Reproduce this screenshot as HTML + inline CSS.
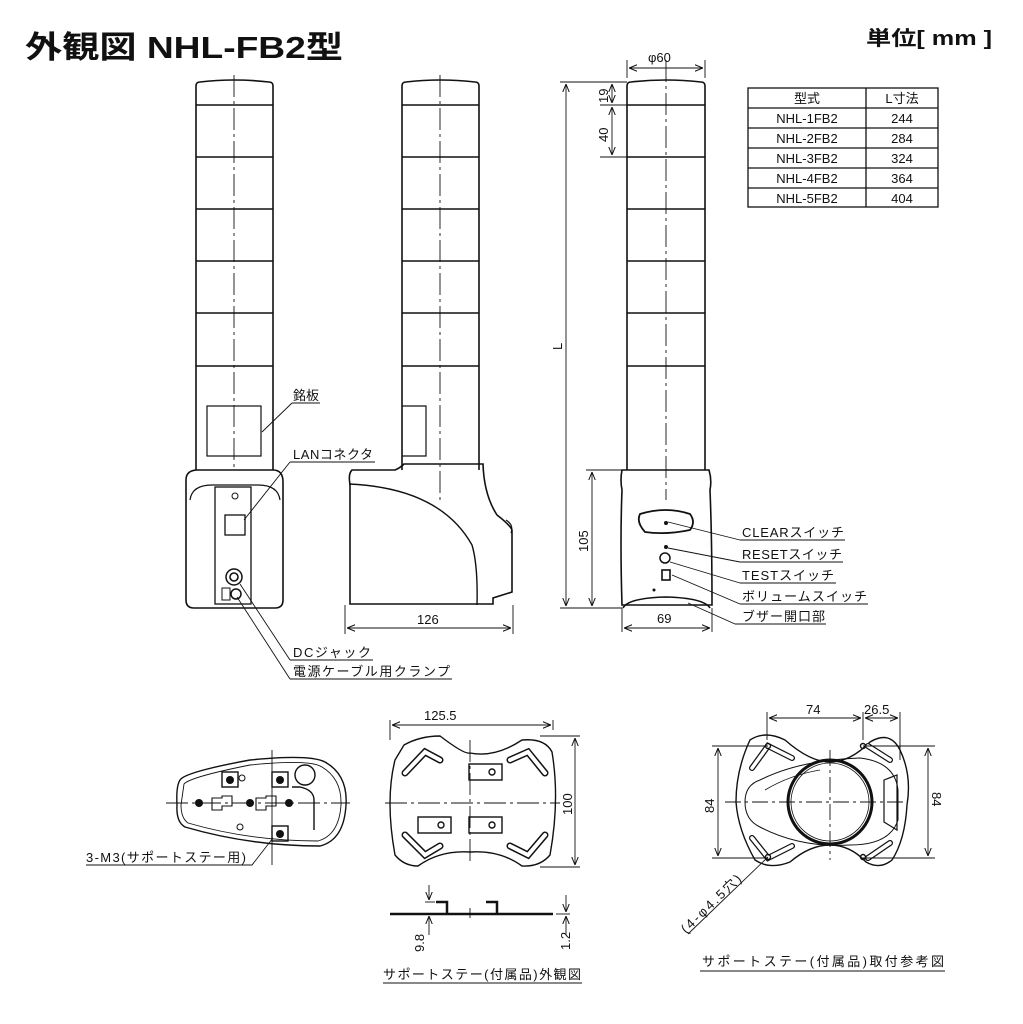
<!DOCTYPE html>
<html><head><meta charset="utf-8"><style>
html,body{margin:0;padding:0;background:#fff}
svg{display:block}
text{font-family:"Liberation Sans","Noto Sans CJK JP",sans-serif;fill:#111}
.t{font-size:13px}
</style></head><body>
<svg width="1023" height="1024" viewBox="0 0 1023 1024" xmlns="http://www.w3.org/2000/svg">
<defs>
<marker id="a" viewBox="0 0 10 10" refX="10" refY="5" markerWidth="9" markerHeight="9" orient="auto-start-reverse"><path d="M0,1 L10,5 L0,9" fill="none" stroke="#111" stroke-width="1.2"/></marker>
</defs>
<text x="25" y="58" font-size="31" font-weight="bold" textLength="318" lengthAdjust="spacingAndGlyphs">外観図 NHL-FB2型</text>
<text x="866" y="45" font-size="20" font-weight="bold" textLength="126" lengthAdjust="spacingAndGlyphs">単位[ mm ]</text>

<g fill="none" stroke="#111" stroke-width="1.6">
<path d="M196,470 V86 Q196,82 200,82 Q234,78 269,82 Q273,82 273,86 V470"/>
<path d="M196,105H273M196,157H273M196,209H273M196,261H273M196,313H273M196,366H273"/>
<rect x="207" y="406" width="54" height="50" stroke-width="1.2"/>
<path d="M186,480 Q186,470 198,470 H273 Q283,470 283,482 V600 Q283,608 275,608 H194 Q186,608 186,600 Z"/>
<path d="M190,500 Q192,485 212,485 H258 Q278,485 280,500" stroke-width="1.2"/>
<rect x="215" y="487" width="36" height="117" stroke-width="1.3"/>
<rect x="225" y="515" width="20" height="20" stroke-width="1.3"/>
<circle cx="234" cy="577" r="8" stroke-width="1.5"/><circle cx="234" cy="577" r="4"/>
<circle cx="236" cy="594" r="5" stroke-width="1.5"/>
<rect x="222" y="588" width="8" height="12" stroke-width="1"/>
<circle cx="235" cy="496" r="3" stroke-width="1"/>
<path d="M402,470 V86 Q402,82 406,82 Q440,78 475,82 Q479,82 479,86 V470"/>
<path d="M402,105H479M402,157H479M402,209H479M402,261H479M402,313H479M402,366H479"/>
<path d="M402,406 H426 V456 H402" stroke-width="1.2"/>
<path d="M352,470 H395 Q400,468 404,464 H483 Q484,495 497,515 Q510,525 512,530 V592 L493,598 V604 H350 V484 Q348,474 352,470 Z"/>
<path d="M349,484 Q440,488 472,545 Q478,565 477,605" stroke-width="1.4"/>
<path d="M506,520 Q514,525 511,533" stroke-width="1.2"/>
<path d="M627,470 V86 Q627,82 631,82 Q666,78 701,82 Q705,82 705,86 V470"/>
<path d="M627,105H705M627,157H705M627,209H705M627,261H705M627,313H705M627,366H705"/>
<path d="M622,470 H709 Q712,480 710,490 Q712,540 712,605 H622 Q620,540 622,490 Q620,480 622,470 Z"/>
<path d="M640,514 Q666,506 690,514 Q696,522 690,530 Q666,535 645,532 Q636,522 640,514 Z" stroke-width="1.8"/>
<circle cx="665" cy="558" r="5" stroke-width="1.5"/>
<rect x="662" y="570" width="8" height="10" stroke-width="1.6"/>
<path d="M623,608 Q628,598 666,597 Q704,598 710,608" stroke-width="1.6"/>
</g>
<g fill="#111"><circle cx="666" cy="523" r="2"/><circle cx="666" cy="547" r="2"/><circle cx="654" cy="590" r="1.5"/></g>

<g stroke="#111" stroke-width="0.9" stroke-dasharray="22,4,3,4" fill="none">
<path d="M234,75V470M440,75V500M666,60V500"/>
</g>

<g stroke="#111" stroke-width="0.9" fill="none">
<path d="M627,78V60M705,78V60"/><path d="M629,68H703" marker-start="url(#a)" marker-end="url(#a)"/>
<path d="M560,82H627M600,105H627M600,157H627M560,608H622M586,470H622"/>
<path d="M566,84V606" marker-start="url(#a)" marker-end="url(#a)"/>
<path d="M612,84V103" marker-start="url(#a)" marker-end="url(#a)"/>
<path d="M612,107V155" marker-start="url(#a)" marker-end="url(#a)"/>
<path d="M592,472V606" marker-start="url(#a)" marker-end="url(#a)"/>
<path d="M622,608V632M712,608V632"/><path d="M624,628H710" marker-start="url(#a)" marker-end="url(#a)"/>
<path d="M345,605V634M513,605V634"/><path d="M347,628H511" marker-start="url(#a)" marker-end="url(#a)"/>
</g>
<text x="648" y="62" class="t">φ60</text>
<text x="0" y="0" class="t" transform="translate(608,103) rotate(-90)">19</text>
<text x="0" y="0" class="t" transform="translate(608,142) rotate(-90)">40</text>
<text x="0" y="0" class="t" transform="translate(562,350) rotate(-90)">L</text>
<text x="0" y="0" class="t" transform="translate(588,552) rotate(-90)">105</text>
<text x="657" y="623" class="t">69</text>
<text x="417" y="624" class="t">126</text>

<g fill="none" stroke="#111" stroke-width="1.3">
<rect x="748" y="88" width="190" height="119"/>
<path d="M748,108H938M748,128H938M748,148H938M748,168H938M748,188H938M866,88V207"/>
</g>
<g text-anchor="middle">
<text x="807" y="103" class="t">型式</text><text x="902" y="103" class="t">L寸法</text>
<text x="807" y="123" class="t">NHL-1FB2</text><text x="902" y="123" class="t">244</text>
<text x="807" y="143" class="t">NHL-2FB2</text><text x="902" y="143" class="t">284</text>
<text x="807" y="163" class="t">NHL-3FB2</text><text x="902" y="163" class="t">324</text>
<text x="807" y="183" class="t">NHL-4FB2</text><text x="902" y="183" class="t">364</text>
<text x="807" y="203" class="t">NHL-5FB2</text><text x="902" y="203" class="t">404</text>
</g>

<g stroke="#111" stroke-width="0.9" fill="none">
<path d="M292,403H320M292,403L262,432"/>
<path d="M290,462H375M290,462L244,520"/>
<path d="M290,660H373M290,660L240,584"/>
<path d="M290,679H452M290,679L237,597"/>
<path d="M740,540H845M740,540L668,522"/>
<path d="M740,562H843M740,562L668,548"/>
<path d="M740,583H836M740,583L670,562"/>
<path d="M740,604H868M740,604L672,575"/>
<path d="M735,624H826M735,624L688,603"/>
</g>
<text x="293" y="400" class="t">銘板</text>
<text x="293" y="459" class="t" textLength="80">LANコネクタ</text>
<text x="293" y="657" class="t" textLength="78">DCジャック</text>
<text x="293" y="676" class="t" textLength="157">電源ケーブル用クランプ</text>
<text x="742" y="537" class="t" textLength="102">CLEARスイッチ</text>
<text x="742" y="559" class="t" textLength="100">RESETスイッチ</text>
<text x="742" y="580" class="t" textLength="92">TESTスイッチ</text>
<text x="742" y="601" class="t" textLength="125">ボリュームスイッチ</text>
<text x="742" y="621" class="t" textLength="83">ブザー開口部</text>

<g fill="none" stroke="#111" stroke-width="1.4">
<path d="M180,780 Q185,772 250,760 Q310,754 325,762 Q348,775 346,805 Q344,840 320,846 Q250,846 185,827 Q176,822 177,805 Q176,786 180,780 Z"/>
<path d="M184,784 Q190,777 250,765 Q310,759 322,767 Q342,779 341,805 Q339,835 318,841 Q250,841 188,823 Q181,818 181,805 Z" stroke-width="0.9"/>
<rect x="222" y="772" width="16" height="15"/><rect x="272" y="772" width="16" height="15"/><rect x="272" y="826" width="16" height="15"/>
<circle cx="305" cy="775" r="10"/><path d="M292,787 L300,787 Q314,790 314,800 V830"/>
<path d="M212,798H222V796H232V806H222V810H212Z" stroke-width="1.1"/>
<path d="M256,798H266V796H276V806H266V810H256Z" stroke-width="1.1"/>
<circle cx="242" cy="778" r="3" stroke-width="1"/><circle cx="240" cy="827" r="3" stroke-width="1"/>
</g>
<g fill="#111"><circle cx="230" cy="780" r="4"/><circle cx="280" cy="780" r="4"/><circle cx="280" cy="834" r="4"/><circle cx="199" cy="803" r="4"/><circle cx="250" cy="803" r="4"/><circle cx="289" cy="803" r="4"/></g>
<g stroke="#111" stroke-width="0.9" fill="none"><path d="M166,803H350" stroke-dasharray="22,4,3,4"/><path d="M272,750V865"/>
<path d="M86,865H252L273,838"/></g>
<text x="86" y="862" class="t" textLength="160">3-M3(サポートステー用)</text>

<g fill="none" stroke="#111" stroke-width="1.4">
<path d="M404,745 Q420,736 440,736 Q465,755 470,753 Q495,758 522,740 Q545,738 552,752 Q560,800 550,855 Q540,867 522,866 Q500,850 470,852 Q440,850 418,866 Q404,866 395,855 Q385,800 395,760 Z"/>
<path d="M405,773 L425,752 L440,760 M510,760 L528,752 L545,773 M405,835 L425,855 L440,846 M510,846 L528,855 L545,835" stroke-width="7" stroke-linecap="round"/>
<path d="M405,773 L425,752 L440,760 M510,760 L528,752 L545,773 M405,835 L425,855 L440,846 M510,846 L528,855 L545,835" stroke="#fff" stroke-width="4" stroke-linecap="round"/>
<rect x="469" y="764" width="33" height="16"/><rect x="418" y="817" width="33" height="16"/><rect x="469" y="817" width="33" height="16"/>
<circle cx="492" cy="772" r="3"/><circle cx="441" cy="825" r="3"/><circle cx="492" cy="825" r="3"/>
<path d="M390,914H553" stroke-width="2.5"/><path d="M436,902H447V914M486,902H497V914" stroke-width="2.5"/>
</g>
<g stroke="#111" stroke-width="0.9" fill="none">
<path d="M385,803H560" stroke-dasharray="22,4,3,4"/><path d="M470,740V865" stroke-dasharray="22,4,3,4"/>
<path d="M470,908V918"/>
<path d="M390,740V720M553,730V720"/><path d="M392,725H551" marker-start="url(#a)" marker-end="url(#a)"/>
<path d="M540,736H580M540,867H580"/><path d="M575,738V865" marker-start="url(#a)" marker-end="url(#a)"/>
<path d="M429,885V900" marker-end="url(#a)"/><path d="M429,935V916" marker-end="url(#a)"/><path d="M425,902H435"/>
<path d="M566,895V912" marker-end="url(#a)"/><path d="M566,935V916" marker-end="url(#a)"/><path d="M556,914H570"/>
<path d="M383,983H582"/>
</g>
<text x="424" y="720" class="t">125.5</text>
<text x="0" y="0" class="t" transform="translate(572,815) rotate(-90)">100</text>
<text x="0" y="0" class="t" transform="translate(424,952) rotate(-90)">9.8</text>
<text x="0" y="0" class="t" transform="translate(570,950) rotate(-90)">1.2</text>
<text x="383" y="979" class="t" textLength="198">サポートステー(付属品)外観図</text>

<g fill="none" stroke="#111" stroke-width="1.4">
<path d="M750,740 Q765,730 785,740 Q810,762 830,762 Q850,762 870,742 Q890,730 900,750 Q912,775 907,805 Q905,840 892,860 Q880,870 866,862 Q850,845 830,845 Q810,845 790,862 Q770,870 755,860 Q738,830 736,802 Q736,770 750,740 Z"/>
<path d="M760,780 Q800,760 860,758 Q895,762 898,790 V820 Q890,845 850,845 Q800,848 760,827 Q745,820 745,802 Q745,785 760,780 Z" stroke-width="1"/>
<path d="M765,790 Q790,775 820,770" stroke-width="0.8"/>
<circle cx="830" cy="802" r="42" stroke-width="3"/>
<circle cx="830" cy="802" r="39" stroke-width="0.8"/>
<path d="M884,780 L897,775 V830 L884,822 Z" stroke-width="1.2"/>
<path d="M752,768 L768,746 L792,758 M868,746 L890,760 M752,838 L768,858 L792,846 M868,858 L890,843" stroke-width="6" stroke-linecap="round"/>
<path d="M752,768 L768,746 L792,758 M868,746 L890,760 M752,838 L768,858 L792,846 M868,858 L890,843" stroke="#fff" stroke-width="3.5" stroke-linecap="round"/>
<circle cx="768" cy="746" r="2.5"/><circle cx="863" cy="746" r="2.5"/><circle cx="768" cy="857" r="2.5"/><circle cx="863" cy="857" r="2.5"/>
</g>
<g stroke="#111" stroke-width="0.9" fill="none">
<path d="M725,802H905" stroke-dasharray="16,4,3,4"/><path d="M830,750V860" stroke-dasharray="16,4,3,4"/>
<path d="M767,740V712M863,740V712M900,760V712"/>
<path d="M769,718H861" marker-start="url(#a)" marker-end="url(#a)"/>
<path d="M865,718H898" marker-start="url(#a)" marker-end="url(#a)"/>
<path d="M712,746H768M712,858H768M863,746H935M863,858H935"/>
<path d="M718,748V856" marker-start="url(#a)" marker-end="url(#a)"/>
<path d="M928,748V856" marker-start="url(#a)" marker-end="url(#a)"/>
<path d="M688,934L768,857"/>
<path d="M700,971H945"/>
</g>
<text x="806" y="714" class="t">74</text>
<text x="864" y="714" class="t">26.5</text>
<text x="0" y="0" class="t" transform="translate(714,813) rotate(-90)">84</text>
<text x="0" y="0" class="t" transform="translate(932,792) rotate(90)">84</text>
<text x="0" y="0" class="t" transform="translate(686,934) rotate(-44)" textLength="78">(4-φ4.5穴)</text>
<text x="702" y="966" class="t" textLength="242">サポートステー(付属品)取付参考図</text>
</svg>
</body></html>
